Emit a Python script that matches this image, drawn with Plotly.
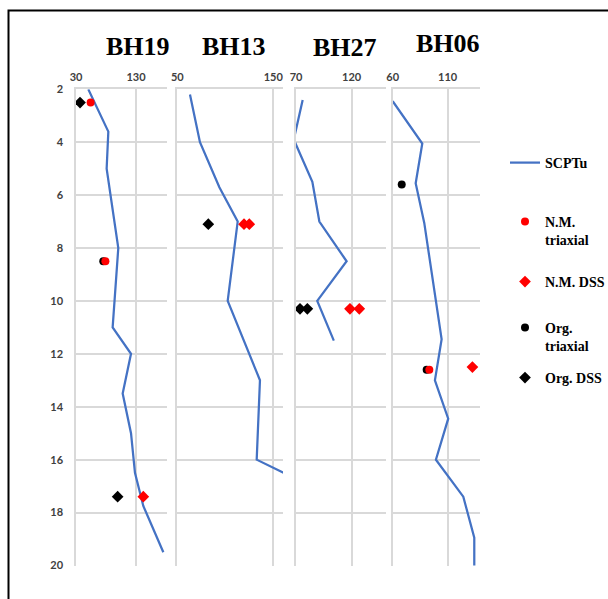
import plotly.graph_objects as go

# ---- data -------------------------------------------------------------
boreholes = ["BH19", "BH13", "BH27", "BH06"]

# SCPTu profiles: value vs depth
bh19_scptu_val = [50.5, 83.9, 81.1, 100.5, 91.1, 121.7, 107.8, 121.7, 128.3, 142.2, 175.6]
bh19_scptu_dep = [2.0, 3.6, 5.0, 8.0, 11.0, 12.0, 13.5, 15.0, 16.5, 17.75, 19.5]

bh13_scptu_val = [63.2, 73.6, 93.8, 112.9, 102.5, 136.1, 132.7, 175.0]
bh13_scptu_dep = [2.2, 4.0, 5.7, 7.0, 10.0, 13.0, 16.0, 16.75]

bh27_scptu_val = [76.0, 68.0, 84.7, 91.0, 115.5, 89.1, 104.0]
bh27_scptu_dep = [2.4, 3.9, 5.5, 7.0, 8.5, 10.0, 11.5]

bh06_scptu_val = [60.0, 86.9, 80.9, 88.7, 104.5, 98.4, 110.5, 99.3, 124.2, 134.2, 134.2]
bh06_scptu_dep = [2.45, 4.05, 5.55, 7.05, 11.45, 13.0, 14.45, 16.0, 17.4, 18.95, 20.0]

scptu_val = [bh19_scptu_val, bh13_scptu_val, bh27_scptu_val, bh06_scptu_val]
scptu_dep = [bh19_scptu_dep, bh13_scptu_dep, bh27_scptu_dep, bh06_scptu_dep]

# Laboratory results per borehole (value, depth)
nm_triaxial_val = [[54.4, 79.0], [], [], [93.3]]
nm_triaxial_dep = [[2.5, 8.5], [], [], [12.6]]

nm_dss_val = [[142.2], [119.5, 125.0], [118.5, 126.9], [132.5]]
nm_dss_dep = [[17.4], [7.1, 7.1], [10.3, 10.3], [12.5]]

org_triaxial_val = [[75.5], [], [], [68.2, 90.9]]
org_triaxial_dep = [[8.5], [], [], [5.6, 12.6]]

org_dss_val = [[36.7, 99.4], [82.3], [73.6, 80.2], []]
org_dss_dep = [[2.5, 17.4], [7.1], [10.3, 10.3], []]

# axis setup per borehole
x_min = [30, 50, 70, 60]
x_max = [181.7, 160.1, 150.9, 139.4]
x_dtick = [100, 100, 50, 50]
depth_ticks = [2, 4, 6, 8, 10, 12, 14, 16, 18, 20]

# ---- layout geometry ----------------------------------------------------
W, H = 608, 599
x_domains = [(76, 167), (177.3, 283), (296, 386), (392.7, 480)]
y_top_px, y_bot_px = 89.3, 566.0
title_x_px = [137.5, 234, 345, 448]
title_y_px = [46, 46, 47, 43]

LINE_BLUE = "#4472C4"
GRID = "#d9d9d9"
TICK_FONT = dict(family="Lato", size=11, color="#404040", weight="bold")

fig = go.Figure()

for i in range(4):
    xa = "x" if i == 0 else f"x{i + 1}"
    ya = "y" if i == 0 else f"y{i + 1}"
    fig.add_trace(go.Scatter(
        x=scptu_val[i], y=scptu_dep[i], mode="lines",
        line=dict(color=LINE_BLUE, width=2.25),
        name="SCPTu", legendgroup="scptu", legend="legend",
        showlegend=(i == 0), xaxis=xa, yaxis=ya))
    fig.add_trace(go.Scatter(
        x=org_triaxial_val[i], y=org_triaxial_dep[i], mode="markers",
        marker=dict(symbol="circle", size=8, color="black"),
        name="Org.<br>triaxial", legendgroup="orgtri", legend="legend4",
        showlegend=(i == 0), xaxis=xa, yaxis=ya))
    fig.add_trace(go.Scatter(
        x=nm_triaxial_val[i], y=nm_triaxial_dep[i], mode="markers",
        marker=dict(symbol="circle", size=8, color="red"),
        name="N.M.<br>triaxial", legendgroup="nmtri", legend="legend2",
        showlegend=(i == 0), xaxis=xa, yaxis=ya))
    fig.add_trace(go.Scatter(
        x=org_dss_val[i], y=org_dss_dep[i], mode="markers",
        marker=dict(symbol="diamond", size=9, color="black"),
        name="Org. DSS", legendgroup="orgdss", legend="legend5",
        showlegend=(i == 0), xaxis=xa, yaxis=ya))
    fig.add_trace(go.Scatter(
        x=nm_dss_val[i], y=nm_dss_dep[i], mode="markers",
        marker=dict(symbol="diamond", size=9, color="red"),
        name="N.M. DSS", legendgroup="nmdss", legend="legend3",
        showlegend=(i == 0), xaxis=xa, yaxis=ya))

layout = dict(
    width=W, height=H,
    margin=dict(l=0, r=0, t=0, b=0, autoexpand=False),
    paper_bgcolor="white", plot_bgcolor="white",
    showlegend=True,
)

ydom = [1 - y_bot_px / H, 1 - y_top_px / H]
for i in range(4):
    xk = "xaxis" if i == 0 else f"xaxis{i + 1}"
    yk = "yaxis" if i == 0 else f"yaxis{i + 1}"
    ya = "y" if i == 0 else f"y{i + 1}"
    xa = "x" if i == 0 else f"x{i + 1}"
    layout[xk] = dict(
        domain=[x_domains[i][0] / W, x_domains[i][1] / W],
        anchor=ya, side="top", range=[x_min[i], x_max[i]],
        tick0=x_min[i], dtick=x_dtick[i], ticks="",
        showgrid=True, gridcolor=GRID, gridwidth=1.5,
        showline=True, linecolor=GRID, linewidth=1.5,
        zeroline=False, tickfont=TICK_FONT, ticklabelstandoff=2,
        automargin=False,
    )
    layout[yk] = dict(
        domain=ydom, anchor=xa, range=[20.02, 2],
        tickvals=depth_ticks, ticks="",
        showgrid=True, gridcolor=GRID, gridwidth=1.5,
        showline=True, linecolor=GRID, linewidth=1.5,
        zeroline=False, showticklabels=(i == 0),
        tickfont=TICK_FONT, ticklabelstandoff=9,
        automargin=False,
    )
    if i > 0:
        layout[yk]["matches"] = "y"

fig.update_layout(**layout)

# borehole titles
for name, xp, yp in zip(boreholes, title_x_px, title_y_px):
    fig.add_annotation(
        text=f"<b>{name}</b>", x=xp / W, y=1 - yp / H,
        xref="paper", yref="paper", showarrow=False,
        xanchor="center", yanchor="middle",
        font=dict(family="Liberation Serif", size=26, color="black"))

# legends, one box per entry
LEG_FONT = dict(family="Liberation Serif", size=14, color="black", weight="bold")
leg_y_px = {"legend": 163, "legend2": 231, "legend3": 282, "legend4": 337, "legend5": 378}
for key, yp in leg_y_px.items():
    fig.update_layout(**{key: dict(
        x=505 / W, y=1 - yp / H, xanchor="left", yanchor="middle",
        bgcolor="rgba(0,0,0,0)", borderwidth=0, font=LEG_FONT,
        itemwidth=30, valign="top")})

# outer frame
fig.add_shape(type="rect", xref="paper", yref="paper",
              x0=8.5 / W, x1=1.02, y0=-0.02, y1=1 - 10.5 / H,
              line=dict(color="black", width=2), layer="above")

fig.write_html("out.html")
